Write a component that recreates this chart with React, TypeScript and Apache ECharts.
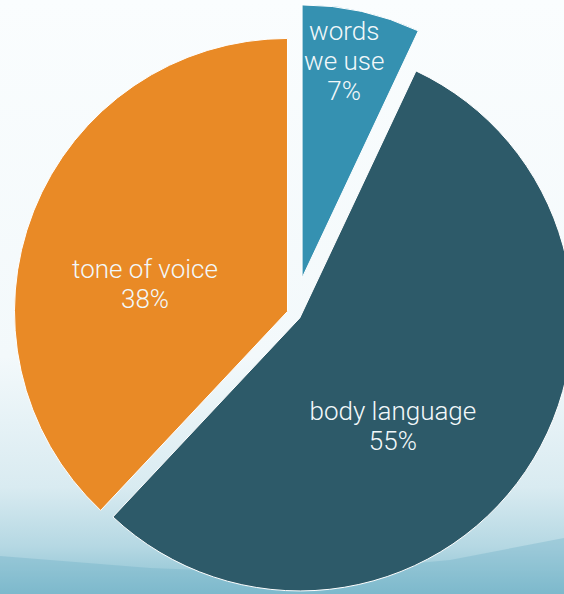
import React, { useEffect, useRef } from "react";
import * as echarts from "echarts";

const categories = ["words\nwe use", "body language", "tone of voice"];
const values = [7, 55, 38];
const percentLabels = ["7%", "55%", "38%"];
const sliceColors = ["#3591b1", "#2d5a69", "#e98a26"];
// label nudges (dx, dy) relative to ECharts' default inside position
const labelNudge = [
  [-16, -80],
  [50, 95],
  [-6, 10],
];

export default function App() {
  const ref = useRef<HTMLDivElement>(null);
  useEffect(() => {
    if (!ref.current) return;
    const chart = echarts.init(ref.current, undefined, { renderer: "svg" });
    const labelStyle = {
      show: true,
      position: "inside",
      color: "#f2f8fa",
      fontFamily: "Roboto",
      fontWeight: 300,
      fontSize: 26,
      lineHeight: 30,
      formatter: (p: any) => `${p.name}\n${percentLabels[p.dataIndex]}`,
    };
    const makeData = (visible: number[]) =>
      categories.map((name, i) => {
        const on = visible.includes(i);
        const itemStyle = on
          ? { color: sliceColors[i], borderColor: "#ffffff", borderWidth: 1 }
          : { color: "transparent", borderWidth: 0 };
        return {
          name,
          value: values[i],
          selected: on,
          itemStyle,
          select: { itemStyle, label: on ? labelStyle : { show: false } },
          emphasis: { disabled: true },
          label: on ? labelStyle : { show: false },
        };
      });
    const base = {
      type: "pie",
      center: [294, 314],
      radius: 273,
      startAngle: 90,
      clockwise: true,
      selectedMode: "multiple",
      avoidLabelOverlap: false,
      labelLine: { show: false },
      silent: true,
      labelLayout: (p: any) => ({
        dx: labelNudge[p.dataIndex][0],
        dy: labelNudge[p.dataIndex][1],
      }),
    };
    chart.setOption({
      animation: false,
      graphic: [
        {
          type: "rect",
          z: -10,
          shape: { x: 0, y: 0, width: 564, height: 594 },
          style: {
            fill: new echarts.graphic.LinearGradient(0, 0, 0, 1, [
              { offset: 0, color: "#fafdfe" },
              { offset: 0.6, color: "#f3f9fb" },
              { offset: 0.82, color: "#d9ebf1" },
              { offset: 0.92, color: "#b5d8e3" },
              { offset: 1, color: "#86bfd0" },
            ]),
          },
        },
        {
          type: "polygon",
          z: -9,
          shape: {
            points: [
              [0, 556],
              [150, 568],
              [300, 574],
              [450, 560],
              [564, 538],
              [564, 594],
              [0, 594],
            ],
          },
          style: { fill: "rgba(110,175,198,0.35)" },
        },
      ],
      series: [
        { ...base, selectedOffset: 7, data: makeData([1, 2]) },
        { ...base, selectedOffset: 37, data: makeData([0]) },
      ],
    });
    return () => chart.dispose();
  }, []);
  return (
    <div
      ref={ref}
      style={{ position: "absolute", left: 0, top: 0, width: 564, height: 594 }}
    />
  );
}
